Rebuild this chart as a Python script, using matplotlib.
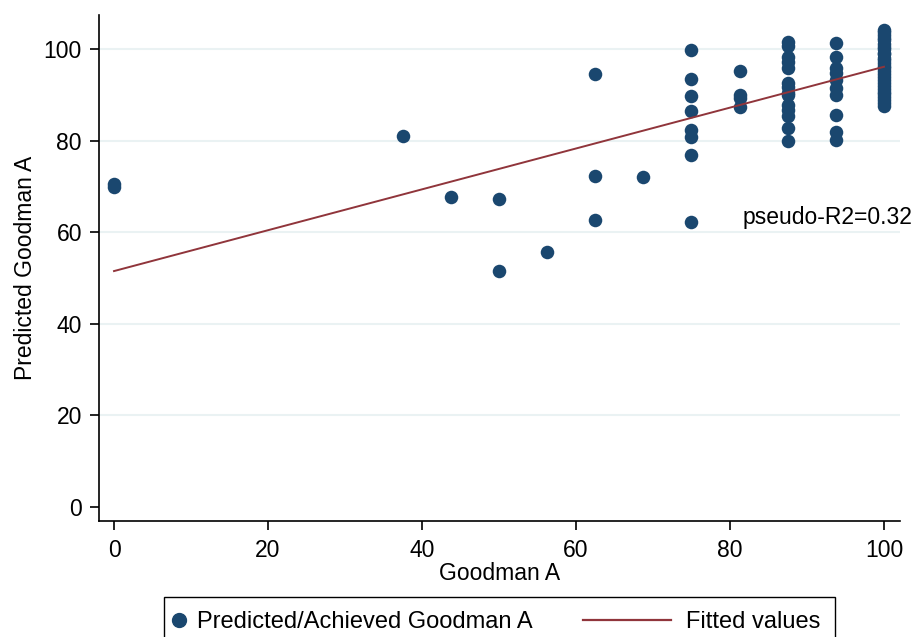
import matplotlib
matplotlib.use("Agg")
import matplotlib.pyplot as plt
from matplotlib.patches import Rectangle
from matplotlib.lines import Line2D

# ---- data ----
x_levels = [0, 37.5, 43.75, 50, 56.25, 62.5, 68.75, 75, 81.25, 87.5, 93.75, 100]
y_at_0 = [70.5, 69.8]
y_at_37 = [80.9]
y_at_43 = [67.6]
y_at_50 = [67.3, 51.6]
y_at_56 = [55.7]
y_at_62 = [94.5, 72.3, 62.6]
y_at_68 = [72.0]
y_at_75 = [99.8, 93.4, 89.7, 86.5, 82.3, 80.8, 76.9, 62.2]
y_at_81 = [95.1, 90.0, 89.3, 87.4]
y_at_87 = [101.6, 100.7, 98.3, 97.2, 95.8, 92.5, 91.6, 90.4, 89.9, 87.8, 86.7, 85.4, 82.7, 79.8]
y_at_93 = [101.2, 98.3, 95.8, 94.7, 93.2, 91.4, 90.0, 85.6, 81.9, 80.1]
y_at_100 = [104.1, 103.6, 103.1, 102.3, 101.9, 101.0, 100.4, 99.9, 99.2, 98.8, 98.1,
            97.5, 97.0, 96.2, 95.9, 95.1, 94.6, 93.9, 93.3, 92.5, 92.0, 91.2, 90.7,
            90.1, 89.4, 88.9, 88.2, 87.6]
y_groups = [y_at_0, y_at_37, y_at_43, y_at_50, y_at_56, y_at_62, y_at_68,
            y_at_75, y_at_81, y_at_87, y_at_93, y_at_100]

fit_x = [0, 100]
fit_y = [51.5, 96.1]
r2_label = "pseudo-R2=0.32"
r2_pos = (81.6, 63.3)

x_ticks = [0, 20, 40, 60, 80, 100]
y_ticks = [0, 20, 40, 60, 80, 100]

goodman_a = [x for x, ys in zip(x_levels, y_groups) for _ in ys]
predicted = [y for ys in y_groups for y in ys]

# ---- style ----
navy = "#1a476f"
maroon = "#90353b"
grid_c = "#eaf2f3"
plt.rcParams["font.family"] = ["Liberation Sans", "DejaVu Sans"]
FS = 16.5
TFS = 16.5

W, H = 921, 637
fig = plt.figure(figsize=(W / 100, H / 100), dpi=100)
ax = fig.add_axes([99 / W, 1 - 521 / H, (900 - 99) / W, (521 - 15) / H])

ax.scatter(goodman_a, predicted, s=95, color=navy, linewidths=0, zorder=3)
ax.plot(fit_x, fit_y, color=maroon, lw=1.4, zorder=4)
ax.text(r2_pos[0], r2_pos[1], r2_label, fontsize=FS, va="center", ha="left",
        clip_on=False, zorder=5)

ax.set_xlim(-1.95, 102.08)
ax.set_ylim(-3.06, 107.4)
ax.set_xticks(x_ticks)
ax.set_yticks(y_ticks)
ax.tick_params(axis="both", direction="out", length=6.8, width=1.2, labelsize=TFS,
               color="black")
ax.tick_params(axis="y", pad=5.5)
ax.tick_params(axis="x", pad=6.5)
ax.spines["top"].set_visible(False)
ax.spines["right"].set_visible(False)
for s in ("left", "bottom"):
    ax.spines[s].set_linewidth(1.2)
ax.yaxis.grid(True, color=grid_c, lw=1.5, zorder=0)
ax.yaxis.get_gridlines()[0].set_visible(False)
ax.set_axisbelow(True)

ax.set_xlabel("Goodman A", fontsize=FS, labelpad=0)
ax.set_ylabel("Predicted Goodman A", fontsize=FS, labelpad=5)

# ---- legend below the plot ----
fig.patches.append(Rectangle((164 / W, 1 - 660 / H), (835 - 164) / W, (660 - 597) / H,
                             transform=fig.transFigure, fill=False,
                             edgecolor="black", lw=1.0))
h1 = Line2D([], [], marker="o", linestyle="none", color=navy, markersize=10)
h2 = Line2D([], [], color=maroon, lw=1.6)
leg1 = fig.legend([h1], ["Predicted/Achieved Goodman A"], loc="center left",
                  bbox_to_anchor=(172 / W, 1 - 622 / H), frameon=False,
                  fontsize=FS + 0.5, handlelength=0.6, handletextpad=0.45,
                  borderpad=0, borderaxespad=0)
leg2 = fig.legend([h2], ["Fitted values"], loc="center left",
                  bbox_to_anchor=(583 / W, 1 - 622 / H), frameon=False,
                  fontsize=FS + 0.5, handlelength=3.72, handletextpad=0.63,
                  borderpad=0, borderaxespad=0)

fig.savefig("out.png", dpi=100, facecolor="white")
